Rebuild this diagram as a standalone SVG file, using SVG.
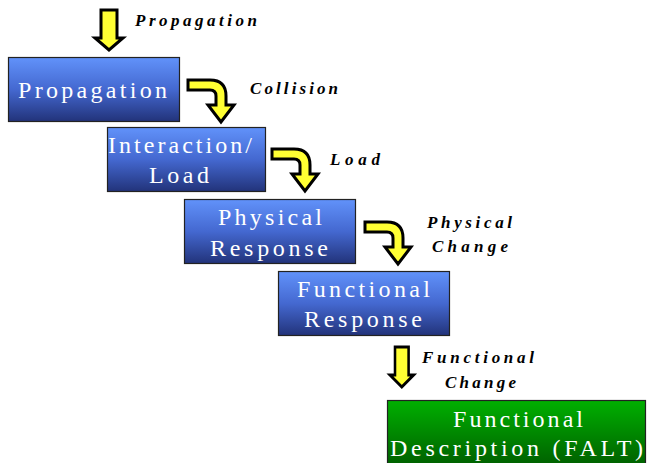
<svg xmlns="http://www.w3.org/2000/svg" width="648" height="463" viewBox="0 0 648 463">
<defs>
<linearGradient id="blue" x1="0" y1="0" x2="0" y2="1">
<stop offset="0" stop-color="#6192fa"/>
<stop offset="0.5" stop-color="#4468d0"/>
<stop offset="1" stop-color="#22337a"/>
</linearGradient>
<linearGradient id="green" x1="0" y1="0" x2="0" y2="1">
<stop offset="0" stop-color="#00b000"/>
<stop offset="1" stop-color="#005a00"/>
</linearGradient>
<path id="curve" d="M0,0 L22,0 Q38,0 38,16 L38,25 L46,25 L33,42 L20,25 L28,25 L28,16 Q28,10 22,10 L0,10 Z" fill="#ffff33" stroke="#000" stroke-width="3"/>
<path id="down" d="M0,0 L16,0 L16,28 L22,28 L8,40 L-6,28 L0,28 Z" fill="#ffff33" stroke="#000" stroke-width="3"/>
</defs>
<g id="connectors">
<use href="#down" transform="translate(101,10)"/>
<use href="#curve" transform="translate(188,80)"/>
<use href="#curve" transform="translate(272,149)"/>
<use href="#curve" transform="translate(365,222)"/>
<use href="#down" transform="translate(395,347) scale(0.85,1)"/>
<text font-family="Liberation Serif" font-size="17" font-weight="bold" font-style="italic" fill="#000" x="135" y="26" textLength="122" lengthAdjust="spacing">Propagation</text>
<text font-family="Liberation Serif" font-size="17" font-weight="bold" font-style="italic" fill="#000" x="250" y="94" textLength="88" lengthAdjust="spacing">Collision</text>
<text font-family="Liberation Serif" font-size="17" font-weight="bold" font-style="italic" fill="#000" x="330" y="165" textLength="50" lengthAdjust="spacing">Load</text>
<text font-family="Liberation Serif" font-size="17" font-weight="bold" font-style="italic" fill="#000" x="427" y="228" textLength="85" lengthAdjust="spacing">Physical</text>
<text font-family="Liberation Serif" font-size="17" font-weight="bold" font-style="italic" fill="#000" x="432" y="252" textLength="76" lengthAdjust="spacing">Change</text>
<text font-family="Liberation Serif" font-size="17" font-weight="bold" font-style="italic" fill="#000" x="422" y="363" textLength="112" lengthAdjust="spacing">Functional</text>
<text font-family="Liberation Serif" font-size="17" font-weight="bold" font-style="italic" fill="#000" x="445" y="388" textLength="71" lengthAdjust="spacing">Change</text>
</g>
<g id="propagation">
<rect x="8.5" y="57.5" width="171" height="64" fill="url(#blue)" stroke="#222" stroke-width="1.2"/>
<text font-family="Liberation Serif" font-size="24" fill="#fff" text-anchor="middle" x="92.5" y="98" textLength="149" lengthAdjust="spacing">Propagation</text>
</g>
<g id="interaction">
<rect x="107.5" y="127.5" width="158" height="64" fill="url(#blue)" stroke="#222" stroke-width="1.2"/>
<text font-family="Liberation Serif" font-size="24" fill="#fff" text-anchor="middle" x="180" y="153" textLength="144" lengthAdjust="spacing">Interaction/</text>
<text font-family="Liberation Serif" font-size="24" fill="#fff" text-anchor="middle" x="179" y="183" textLength="60" lengthAdjust="spacing">Load</text>
</g>
<g id="physical">
<rect x="184.5" y="199.5" width="171" height="64" fill="url(#blue)" stroke="#222" stroke-width="1.2"/>
<text font-family="Liberation Serif" font-size="24" fill="#fff" text-anchor="middle" x="270" y="225" textLength="104" lengthAdjust="spacing">Physical</text>
<text font-family="Liberation Serif" font-size="24" fill="#fff" text-anchor="middle" x="269" y="256" textLength="118" lengthAdjust="spacing">Response</text>
</g>
<g id="functional">
<rect x="278.5" y="271.5" width="171" height="64" fill="url(#blue)" stroke="#222" stroke-width="1.2"/>
<text font-family="Liberation Serif" font-size="24" fill="#fff" text-anchor="middle" x="363.5" y="297" textLength="133" lengthAdjust="spacing">Functional</text>
<text font-family="Liberation Serif" font-size="24" fill="#fff" text-anchor="middle" x="363" y="327" textLength="118" lengthAdjust="spacing">Response</text>
</g>
<g id="falt">
<rect x="387.5" y="400.5" width="258" height="70" fill="url(#green)" stroke="#222" stroke-width="1.2"/>
<text font-family="Liberation Serif" font-size="24" fill="#fff" text-anchor="middle" x="518" y="427" textLength="130" lengthAdjust="spacing">Functional</text>
<text font-family="Liberation Serif" font-size="24" fill="#fff" text-anchor="middle" x="516.5" y="456" textLength="253" lengthAdjust="spacing">Description (FALT)</text>
</g>
</svg>
